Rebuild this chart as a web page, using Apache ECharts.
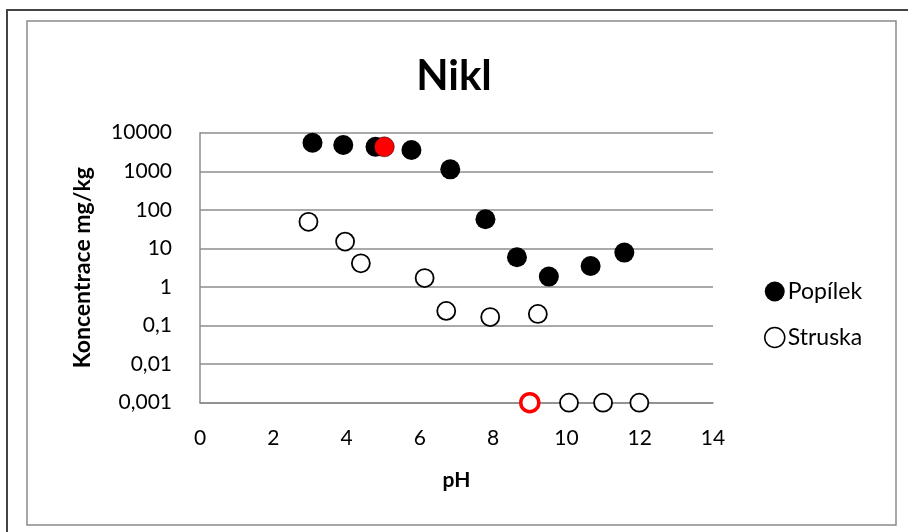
<!DOCTYPE html>
<html>
<head>
    <meta charset="utf-8">
    <title>Nikl</title>
    <script src="https://cdn.jsdelivr.net/npm/echarts@6/dist/echarts.min.js"></script>
    <style>
        body { margin: 0; background: #fff; }
        #main { width: 908px; height: 532px; }
    </style>
</head>
<body>
<div id="main"></div>
<script type="text/javascript">
    // pH vs. concentration (mg/kg)
    var popilekPH = [3.07, 3.91, 4.79, 5.03, 5.77, 6.83, 7.79, 8.65, 9.52, 10.66, 11.58];
    var popilekConc = [5500, 4800, 4300, 4300, 3550, 1120, 57, 5.9, 1.86, 3.5, 7.8];
    var strusakPH = [2.96, 3.96, 4.39, 6.13, 6.72, 7.92, 9.22, 9.0, 10.07, 11.0, 11.99];
    var struskaConc = [49, 15, 4.1, 1.7, 0.24, 0.166, 0.2, 0.001, 0.001, 0.001, 0.001];
    var redPopilek = 3;  // index of the highlighted point
    var redStruska = 7;

    var font = 'Lato, "Open Sans", sans-serif';

    var popilekData = popilekPH.map(function (x, i) {
        var d = { value: [x, popilekConc[i]] };
        if (i === redPopilek) d.itemStyle = { color: '#ff0000', borderColor: '#000', borderWidth: 0.5 };
        return d;
    });
    var struskaData = strusakPH.map(function (x, i) {
        var d = { value: [x, struskaConc[i]] };
        if (i === redStruska) d.itemStyle = { borderColor: '#ff0000', borderWidth: 3.5 };
        return d;
    });

    var myChart = echarts.init(document.getElementById('main'));

    var option = {
        backgroundColor: '#fff',
        animation: false,
        title: {
            text: 'Nikl',
            left: 'center',
            top: 50,
            textStyle: { fontFamily: font, fontSize: 42, fontWeight: 'bold', color: '#000' }
        },
        legend: {
            orient: 'vertical',
            left: 759,
            top: 275,
            itemGap: 23,
            itemWidth: 20,
            itemHeight: 20,
            textStyle: { fontFamily: font, fontSize: 23, color: '#000', padding: [0, 0, 0, -2] },
            data: [
                { name: 'Popílek', icon: 'circle', itemStyle: { color: '#000', borderWidth: 0 } },
                { name: 'Struska', icon: 'circle', itemStyle: { color: '#fff', borderColor: '#000', borderWidth: 1.5 } }
            ]
        },
        grid: {
            left: 200,
            right: 195,
            top: 132.7,
            bottom: 129.3
        },
        xAxis: {
            type: 'value',
            min: 0,
            max: 14,
            interval: 2,
            name: 'pH',
            nameLocation: 'middle',
            nameGap: 67,
            nameTextStyle: { fontFamily: font, fontSize: 21, fontWeight: 'bold', color: '#000' },
            axisLine: { show: true, onZero: false, lineStyle: { color: '#8c8c8c', width: 1.5 } },
            axisTick: { show: false },
            splitLine: { show: false },
            axisLabel: { fontFamily: font, fontSize: 21, color: '#000', margin: 25 }
        },
        yAxis: {
            type: 'log',
            logBase: 10,
            min: 0.001,
            max: 10000,
            name: 'Koncentrace mg/kg',
            nameLocation: 'middle',
            nameGap: 106,
            nameRotate: 90,
            nameTextStyle: { fontFamily: font, fontSize: 23, fontWeight: 'bold', color: '#000' },
            axisLine: { show: true, lineStyle: { color: '#8c8c8c', width: 1.5 } },
            axisTick: { show: false },
            splitLine: { show: true, lineStyle: { color: '#8c8c8c', width: 1.5 } },
            axisLabel: {
                fontFamily: font, fontSize: 21, color: '#000', margin: 28,
                formatter: function (v) {
                    var n = Number(Number(v).toPrecision(6));
                    return String(n).replace('.', ',');
                }
            }
        },
        graphic: [
            { type: 'rect', shape: { x: 27, y: 21, width: 869, height: 504 },
              style: { fill: 'none', stroke: '#8a8a8a', lineWidth: 1.5 }, silent: true },
            { type: 'polyline', shape: { points: [[7, 532], [7, 10], [908, 10]] },
              style: { fill: 'none', stroke: '#444', lineWidth: 2 }, silent: true }
        ],
        series: [
            {
                name: 'Popílek',
                type: 'scatter',
                symbol: 'circle',
                symbolSize: 20,
                itemStyle: { color: '#000', opacity: 1 },
                data: popilekData,
                z: 3
            },
            {
                name: 'Struska',
                type: 'scatter',
                symbol: 'circle',
                symbolSize: 18,
                itemStyle: { color: '#fff', borderColor: '#000', borderWidth: 1.8, opacity: 1 },
                data: struskaData,
                z: 2
            }
        ]
    };
    if (option && typeof option === "object") {
        myChart.setOption(option, true);
    }
</script>
</body>
</html>
